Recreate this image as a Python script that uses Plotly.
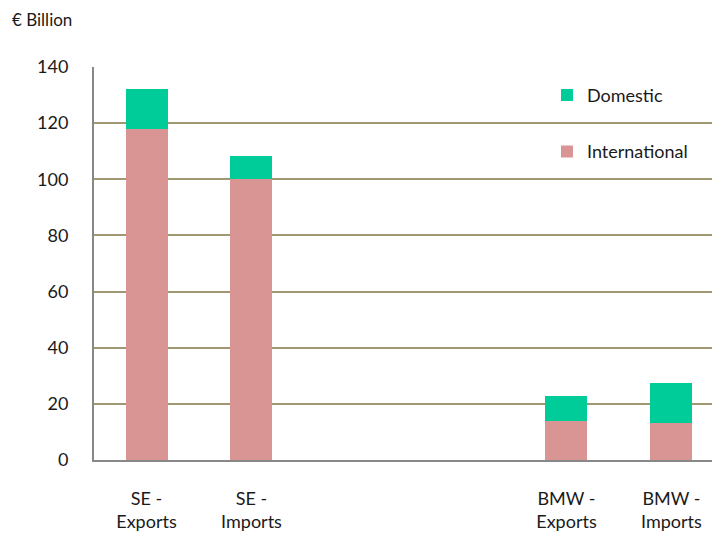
import plotly.graph_objects as go

categories = ["SE -<br>Exports", "SE -<br>Imports", "BMW -<br>Exports", "BMW -<br>Imports"]
slots = [0, 1, 4, 5]
international = [118, 100, 14.0, 13.1]
domestic = [14.2, 8.3, 8.7, 14.3]

c_dom = "#00CC99"
c_int = "#D99594"
grid = "#A09870"
font = "Lato, 'Open Sans', sans-serif"

fig = go.Figure()
fig.add_trace(go.Bar(x=slots, y=international, name="International", marker_color=c_int,
                     marker_line_width=0, legendgroup="i", legendrank=2))
fig.add_trace(go.Bar(x=slots, y=domestic, name="Domestic", marker_color=c_dom,
                     marker_line_width=0, legendgroup="d", legendrank=1))

fig.update_layout(
    width=712, height=533,
    barmode="stack", bargap=0.6,
    plot_bgcolor="white", paper_bgcolor="white",
    margin=dict(l=94, r=0, t=67, b=73),
    font=dict(family=font, size=18, color="#1a1a1a"),
    showlegend=True,
    legend=dict(x=0.733, y=0.975, xanchor="left", yanchor="top",
                traceorder="grouped", tracegroupgap=30,
                font=dict(size=18), bgcolor="rgba(0,0,0,0)", itemwidth=30),
    xaxis=dict(range=[-0.5, 5.386], tickvals=slots, ticktext=categories,
               showgrid=False, showline=True, linecolor="#888888", linewidth=2,
               ticks="outside", ticklen=21, tickcolor="rgba(0,0,0,0)",
               tickfont=dict(size=18), zeroline=False, automargin=False),
    yaxis=dict(range=[0, 140], dtick=20, showgrid=True, gridcolor=grid, gridwidth=2,
               showline=True, linecolor="#888888", linewidth=2,
               ticks="outside", ticklen=20, tickcolor="rgba(0,0,0,0)",
               tickfont=dict(size=18), zeroline=False, automargin=False),
    annotations=[dict(text="€ Billion", xref="paper", yref="paper",
                      x=(10 - 94) / 618, y=1 + (67 - 20) / 393,
                      xanchor="left", yanchor="middle",
                      showarrow=False, font=dict(size=17))],
)
fig.write_html("out.html")
